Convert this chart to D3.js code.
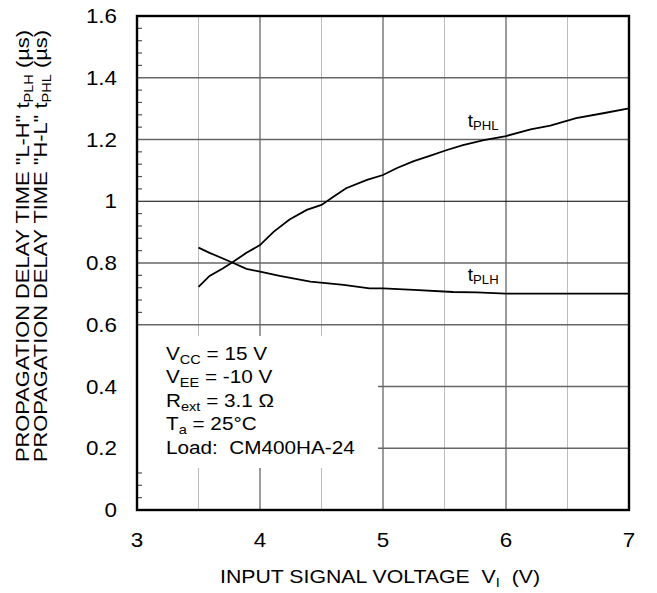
<!DOCTYPE html>
<html>
<head>
<meta charset="utf-8">
<script src="https://cdn.jsdelivr.net/npm/d3@7"></script>
<style>
  body { margin: 0; background: #fff; }
  text { font-family: "Liberation Sans", Arial, sans-serif; fill: #000; white-space: pre; }
</style>
</head>
<body>
<svg id="chart"></svg>
<script>
// chart values
const xTicks = [3, 4, 5, 6, 7];
const yTicks = [0, 0.2, 0.4, 0.6, 0.8, 1, 1.2, 1.4, 1.6];
const yTickLabels = ['0', '0.2', '0.4', '0.6', '0.8', '1', '1.2', '1.4', '1.6'];

const tphlV = [3.5, 3.59, 3.7, 3.77, 3.89, 4.0, 4.11, 4.24, 4.38, 4.5, 4.6, 4.7, 4.87, 5.0, 5.11, 5.25, 5.38, 5.52, 5.65, 5.82, 6.0, 6.2, 6.36, 6.57, 6.79, 7.0];
const tphl  = [0.723, 0.758, 0.783, 0.801, 0.833, 0.858, 0.901, 0.941, 0.972, 0.988, 1.015, 1.042, 1.069, 1.085, 1.107, 1.130, 1.147, 1.166, 1.182, 1.198, 1.211, 1.233, 1.245, 1.269, 1.285, 1.301];

const tplhV = [3.5, 3.59, 3.76, 3.89, 4.0, 4.16, 4.41, 4.68, 4.89, 5.0, 5.25, 5.57, 5.76, 6.0, 7.0];
const tplh  = [0.850, 0.833, 0.804, 0.781, 0.772, 0.758, 0.740, 0.729, 0.718, 0.718, 0.713, 0.706, 0.705, 0.701, 0.701];

const conditions = [
  [['V', ''], ['CC', 'sub'], [' = 15 V', '']],
  [['V', ''], ['EE', 'sub'], [' = -10 V', '']],
  [['R', ''], ['ext', 'sub'], [' = 3.1 \u03A9', '']],
  [['T', ''], ['a', 'sub'], [' = 25\u00B0C', '']],
  [['Load:  CM400HA-24', '']]
];

const width = 657, height = 593;
const margin = { top: 16, right: 28, bottom: 83, left: 137 };
const stretch = 1.12; // reference lettering is a bit wider than Arial

const svg = d3.select('#chart')
  .attr('width', width)
  .attr('height', height);

const x = d3.scaleLinear().domain([3, 7]).range([margin.left, width - margin.right]);
const y = d3.scaleLinear().domain([0, 1.6]).range([height - margin.bottom, margin.top]);

const grid = svg.append('g');

// minor vertical grid (every 0.5)
grid.selectAll('line.vminor')
  .data(d3.range(3.5, 7, 1))
  .join('line')
  .attr('x1', d => x(d)).attr('x2', d => x(d))
  .attr('y1', y(0)).attr('y2', y(1.6))
  .attr('stroke', '#bdbdbd').attr('stroke-width', 1);

// major vertical grid
grid.selectAll('line.vmajor')
  .data(xTicks.slice(1, -1))
  .join('line')
  .attr('x1', d => x(d)).attr('x2', d => x(d))
  .attr('y1', y(0)).attr('y2', y(1.6))
  .attr('stroke', '#666').attr('stroke-width', 1.3);

// horizontal grid
grid.selectAll('line.h')
  .data(yTicks.slice(1, -1))
  .join('line')
  .attr('x1', x(3)).attr('x2', x(7))
  .attr('y1', d => y(d)).attr('y2', d => y(d))
  .attr('stroke', d => d === 1 ? '#000' : '#666')
  .attr('stroke-width', d => d === 1 ? 1 : 1.3);

// minor ticks on the left axis
svg.append('g')
  .selectAll('line')
  .data(d3.range(0.04, 1.6, 0.04).filter(d => Math.abs(d / 0.2 - Math.round(d / 0.2)) > 0.01))
  .join('line')
  .attr('x1', x(3)).attr('x2', x(3) + 5)
  .attr('y1', d => y(d)).attr('y2', d => y(d))
  .attr('stroke', '#555').attr('stroke-width', 1.2);

// conditions box (white patch that hides the grid)
svg.append('rect')
  .attr('x', x(3) + 1).attr('y', 336)
  .attr('width', 240).attr('height', 132)
  .attr('fill', '#fff');

conditions.forEach((parts, i) => {
  const t = svg.append('text')
    .attr('transform', `translate(166,${360 + i * 23.4}) scale(${stretch},1)`)
    .attr('font-size', 18.5);
  let shifted = false;
  parts.forEach(([s, kind]) => {
    if (kind === 'sub') {
      t.append('tspan').attr('font-size', 13).attr('dy', 4).text(s);
      shifted = true;
    } else {
      t.append('tspan').attr('dy', shifted ? -4 : 0).text(s);
      shifted = false;
    }
  });
});

// curves
const line = d3.line().x(d => x(d[0])).y(d => y(d[1]));

svg.append('path')
  .datum(d3.zip(tphlV, tphl))
  .attr('fill', 'none').attr('stroke', '#000').attr('stroke-width', 1.8)
  .attr('d', line);

svg.append('path')
  .datum(d3.zip(tplhV, tplh))
  .attr('fill', 'none').attr('stroke', '#000').attr('stroke-width', 1.8)
  .attr('d', line);

// curve labels
function subLabel(px, py, main, sub) {
  const t = svg.append('text')
    .attr('transform', `translate(${px},${py}) scale(1.05,1)`)
    .attr('font-size', 18);
  t.append('tspan').text(main);
  t.append('tspan').attr('font-size', 12.5).attr('dy', 3).text(sub);
}
subLabel(x(5.69), 127, 't', 'PHL');
subLabel(x(5.69), 281, 't', 'PLH');

// frame
svg.append('rect')
  .attr('x', x(3)).attr('y', y(1.6))
  .attr('width', x(7) - x(3)).attr('height', y(0) - y(1.6))
  .attr('fill', 'none').attr('stroke', '#000').attr('stroke-width', 2.4);

// tick labels
svg.append('g')
  .selectAll('text')
  .data(xTicks)
  .join('text')
  .attr('transform', d => `translate(${x(d)},547) scale(${stretch},1)`)
  .attr('text-anchor', 'middle')
  .attr('font-size', 20)
  .text(d3.format('d'));

svg.append('g')
  .selectAll('text')
  .data(yTicks)
  .join('text')
  .attr('transform', d => `translate(117,${y(d) + 7}) scale(${stretch},1)`)
  .attr('text-anchor', 'end')
  .attr('font-size', 20)
  .text((d, i) => yTickLabels[i]);

// x title
const xt = svg.append('text')
  .attr('x', 220).attr('y', 583)
  .attr('font-size', 19)
  .attr('textLength', 320).attr('lengthAdjust', 'spacingAndGlyphs');
xt.append('tspan').text('INPUT SIGNAL VOLTAGE  V');
xt.append('tspan').attr('font-size', 13).attr('dy', 4).text('I');
xt.append('tspan').attr('dy', -4).text('  (V)');

// y titles (two rotated lines)
function yTitle(bx, pair, sub) {
  const t = svg.append('text')
    .attr('transform', `translate(${bx},462) rotate(-90)`)
    .attr('font-size', 18)
    .attr('textLength', 432).attr('lengthAdjust', 'spacingAndGlyphs');
  t.append('tspan').text(`PROPAGATION DELAY TIME "${pair}" t`);
  t.append('tspan').attr('font-size', 12).attr('dy', 4).text(sub);
  t.append('tspan').attr('dy', -4).text(' (\u00B5s)');
}
yTitle(29, 'L-H', 'PLH');
yTitle(47, 'H-L', 'PHL');
</script>
</body>
</html>
